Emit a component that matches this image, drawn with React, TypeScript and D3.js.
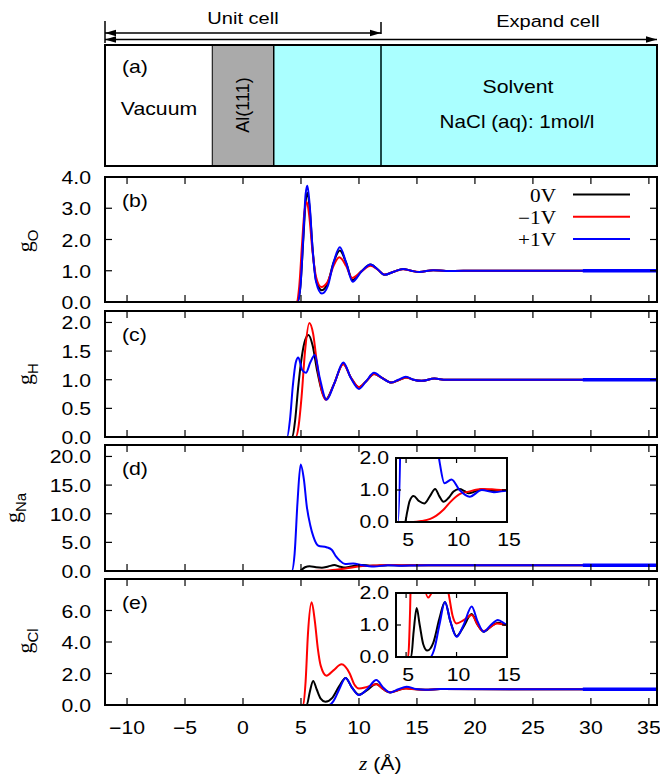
import React from "react";
import * as d3 from "d3";

type Pt = [number, number];

// ---------- axis / layout data ----------
const Z_MIN = -11.9;
const Z_MAX = 35.7;
const xTickValues = [-10, -5, 0, 5, 10, 15, 20, 25, 30, 35];
const insetXTicks = [5, 10, 15];
const insetYTicks = [0, 1, 2];
const insetXDomain: [number, number] = [4, 15];
const insetYDomain: [number, number] = [0, 2];
const seriesNames = ["0V", "\u22121V", "+1V"];
const seriesColors = ["#000000", "#ff0000", "#0000ff"];

// cell geometry (Å)
const slabZ: [number, number] = [-2.65, 2.65];
const unitCellEnd = 11.9;

// ---------- (b) g_O ----------
const gO_0V: Pt[] = [[1.9,0],[4.7,0],[4.95,0.5],[5.2,2.0],[5.4,3.2],[5.55,3.5],[5.75,3.0],[6.0,1.7],[6.3,0.7],[6.8,0.38],[7.3,0.6],[7.8,1.25],[8.35,1.65],[8.9,1.25],[9.45,0.7],[10.2,0.98],[11.0,1.2],[11.6,1.05],[12.2,0.87],[13.0,0.97],[13.8,1.06],[14.5,1.0],[15.2,0.96],[16.4,1.02],[17.5,0.99],[19,1.0],[29.3,1.0]];
const gO_m1V: Pt[] = [[1.9,0],[4.6,0],[4.85,0.5],[5.1,1.9],[5.3,2.9],[5.5,3.2],[5.7,2.8],[6.0,1.6],[6.3,0.8],[6.75,0.48],[7.3,0.65],[7.8,1.15],[8.3,1.43],[8.9,1.15],[9.4,0.77],[10.2,0.97],[11.0,1.16],[11.6,1.04],[12.2,0.88],[13.0,0.97],[13.8,1.05],[14.5,1.0],[15.2,0.96],[16.4,1.02],[17.5,0.99],[19,1.0],[29.3,1.0]];
const gO_p1V: Pt[] = [[-11.9,0],[4.7,0],[4.95,0.5],[5.2,2.1],[5.4,3.45],[5.55,3.72],[5.75,3.1],[6.0,1.7],[6.3,0.65],[6.8,0.27],[7.3,0.5],[7.8,1.25],[8.35,1.75],[8.9,1.25],[9.45,0.65],[10.2,0.97],[11.0,1.2],[11.6,1.05],[12.2,0.87],[13.0,0.97],[13.8,1.06],[14.5,1.0],[15.2,0.96],[16.4,1.02],[17.5,0.99],[19,1.0],[29.3,1.0],[35.7,1.0]];
const gO_ticks = [0, 1, 2, 3, 4];

// ---------- (c) g_H ----------
const gH_0V: Pt[] = [[1.9,0],[4.25,0],[4.5,0.3],[4.75,0.85],[5.0,1.3],[5.3,1.65],[5.65,1.78],[6.0,1.6],[6.4,1.15],[6.8,0.8],[7.15,0.66],[7.8,0.9],[8.65,1.28],[9.3,1.04],[10.0,0.87],[10.6,0.97],[11.3,1.1],[12.0,1.03],[12.8,0.95],[13.4,0.99],[14.05,1.04],[14.7,1.0],[15.4,0.98],[16.5,1.02],[17.5,1.0],[29.3,1.0]];
const gH_m1V: Pt[] = [[1.9,0],[4.55,0],[4.8,0.2],[5.05,0.7],[5.35,1.5],[5.72,1.99],[6.05,1.8],[6.4,1.25],[6.8,0.8],[7.15,0.65],[7.8,0.9],[8.65,1.27],[9.3,1.04],[10.0,0.87],[10.6,0.97],[11.3,1.1],[12.0,1.03],[12.8,0.95],[13.4,0.99],[14.05,1.04],[14.7,1.0],[15.4,0.98],[16.5,1.02],[17.5,1.0],[29.3,1.0]];
const gH_p1V: Pt[] = [[-11.9,0],[3.8,0],[4.05,0.3],[4.3,0.9],[4.55,1.3],[4.77,1.39],[5.1,1.17],[5.43,1.12],[5.8,1.3],[6.2,1.43],[6.6,1.05],[7.2,0.65],[7.9,0.95],[8.65,1.3],[9.3,1.03],[10.0,0.84],[10.6,0.97],[11.3,1.12],[12.0,1.03],[12.8,0.95],[13.4,1.0],[14.05,1.05],[14.7,1.0],[15.4,0.98],[16.5,1.02],[17.5,1.0],[29.3,1.0],[35.7,1.0]];
const gH_ticks = [0, 0.5, 1, 1.5, 2];

// ---------- (d) g_Na ----------
const gNa_0V: Pt[] = [[1.9,0],[4.9,0],[5.1,0.3],[5.35,0.65],[5.74,0.81],[6.3,0.65],[6.8,0.58],[7.35,0.8],[7.88,1.03],[8.3,0.8],[8.7,0.63],[9.2,0.75],[9.7,0.95],[10.3,1.03],[10.8,0.96],[11.2,0.9],[11.8,0.95],[12.5,1.02],[13.7,0.97],[15,1.0],[29.3,1.0]];
const gNa_m1V: Pt[] = [[1.9,0],[5.7,0],[6.5,0.03],[7.4,0.1],[8.0,0.2],[8.7,0.38],[9.4,0.63],[10.3,0.87],[11.2,0.95],[12.5,1.03],[13.5,1.02],[14.7,1.0],[29.3,1.0]];
const gNa_p1V: Pt[] = [[-11.9,0],[4.2,0],[4.45,3],[4.7,12],[4.97,18.6],[5.25,16],[5.5,11.3],[5.8,8],[6.07,6.0],[6.5,4.4],[7.2,4.15],[7.65,3.7],[8.0,2.6],[8.36,1.8],[8.8,1.21],[9.5,1.33],[10.3,1.0],[11.3,0.79],[12.5,1.0],[13.7,0.93],[14.9,0.98],[16,1.0],[29.3,1.0],[35.7,1.0]];
const gNa_ticks = [0, 5, 10, 15, 20];

// ---------- (e) g_Cl ----------
const gCl_0V: Pt[] = [[1.9,0],[5.5,0],[5.75,0.8],[6.05,1.53],[6.35,1.0],[6.7,0.4],[7.1,0.2],[7.7,0.45],[8.3,1.2],[8.85,1.72],[9.4,1.1],[10.0,0.65],[10.7,0.95],[11.5,1.34],[12.1,1.0],[12.7,0.79],[13.4,0.95],[14.1,1.07],[14.9,1.0],[15.7,0.97],[17,1.01],[29.3,1.0]];
const gCl_m1V: Pt[] = [[1.9,0],[5.2,0],[5.4,1.5],[5.6,4.5],[5.92,6.52],[6.2,5.3],[6.45,3.6],[6.7,2.5],[7.2,1.86],[7.8,2.2],[8.5,2.58],[9.2,2.0],[9.6,1.3],[10.0,1.05],[10.7,1.15],[11.5,1.31],[12.1,1.0],[12.65,0.81],[13.3,0.92],[14.0,1.05],[14.9,1.0],[15.7,0.97],[17,1.01],[29.3,1.0]];
const gCl_p1V: Pt[] = [[-11.9,0],[7.4,0],[7.8,0.25],[8.3,1.0],[8.85,1.72],[9.4,1.1],[10.0,0.63],[10.7,1.0],[11.5,1.58],[12.1,1.1],[12.7,0.79],[13.4,1.0],[14.1,1.16],[14.9,1.02],[15.7,0.97],[17,1.01],[29.3,1.0],[35.7,1.0]];
const gCl_ticks = [0, 2, 4, 6];

// ---------- styling ----------
const W = 660;
const H = 776;
const LEFT = 105;
const RIGHT = 657;
const SANS = "'Liberation Sans', Arial, Helvetica, sans-serif";
const SERIF = "'Liberation Serif', 'Times New Roman', serif";
const SX = 1.18;
const TICK = 7;
const fmt = d3.format(".1f");

const x = d3.scaleLinear().domain([Z_MIN, Z_MAX]).range([LEFT, RIGHT]);

type Panel = {
  id: string;
  top: number;
  bottom: number;
  yMax: number;
  ticks: number[];
  sub: string;
  labX: number;
  labY: number;
  series: Pt[][];
  legend?: boolean;
  inset?: { top: number; bottom: number; left: number; right: number };
};

const panels: Panel[] = [
  { id: "b", top: 177, bottom: 302, yMax: 4, ticks: gO_ticks, sub: "O", labX: 32, labY: 241, series: [gO_0V, gO_m1V, gO_p1V], legend: true },
  { id: "c", top: 311, bottom: 437, yMax: 2.2, ticks: gH_ticks, sub: "H", labX: 32, labY: 374, series: [gH_0V, gH_m1V, gH_p1V] },
  { id: "d", top: 445, bottom: 571, yMax: 22, ticks: gNa_ticks, sub: "Na", labX: 20, labY: 508, series: [gNa_0V, gNa_m1V, gNa_p1V], inset: { top: 458, bottom: 522, left: 396, right: 507 } },
  { id: "e", top: 579, bottom: 705, yMax: 8, ticks: gCl_ticks, sub: "Cl", labX: 32, labY: 641, series: [gCl_0V, gCl_m1V, gCl_p1V], inset: { top: 593, bottom: 657, left: 396, right: 507 } },
];

function T(props: { x: number; y: number; anchor?: string; size?: number; family?: string; children: React.ReactNode; style?: any }) {
  const { x: tx, y: ty, anchor = "start", size = 18, family = SANS, children } = props;
  return (
    <text transform={`translate(${tx},${ty}) scale(${SX},1)`} textAnchor={anchor} fontSize={size} fontFamily={family} fill="#000">
      {children}
    </text>
  );
}

function Curves({ series, xs, ys, clipId, width = 2 }: { series: Pt[][]; xs: any; ys: any; clipId: string; width?: number }) {
  const line = d3.line<Pt>().x((d) => xs(d[0])).y((d) => ys(d[1])).curve(d3.curveMonotoneX);
  const tailStart = series[0][series[0].length - 1][0];
  const blue = series[2];
  const tail = blue.filter((p) => p[0] >= tailStart);
  return (
    <g clipPath={`url(#${clipId})`}>
      {series.map((s, i) => (
        <path key={i} d={line(s) || ""} fill="none" stroke={seriesColors[i]} strokeWidth={width} strokeLinejoin="round" />
      ))}
      {tail.length > 1 && <path d={line(tail) || ""} fill="none" stroke={seriesColors[2]} strokeWidth={3.6} />}
    </g>
  );
}

function PanelView({ p }: { p: Panel }) {
  const y = d3.scaleLinear().domain([0, p.yMax]).range([p.bottom, p.top]);
  const clipId = `clip-${p.id}`;
  const ins = p.inset;
  let insetEl: React.ReactNode = null;
  if (ins) {
    const xi = d3.scaleLinear().domain(insetXDomain).range([ins.left, ins.right]);
    const yi = d3.scaleLinear().domain(insetYDomain).range([ins.bottom, ins.top]);
    const cid = `clip-in-${p.id}`;
    insetEl = (
      <g>
        <defs>
          <clipPath id={cid}>
            <rect x={ins.left} y={ins.top} width={ins.right - ins.left} height={ins.bottom - ins.top} />
          </clipPath>
        </defs>
        <rect x={ins.left} y={ins.top} width={ins.right - ins.left} height={ins.bottom - ins.top} fill="#fff" />
        <Curves series={p.series} xs={xi} ys={yi} clipId={cid} />
        {insetXTicks.map((t) => (
          <g key={"ix" + t}>
            <line x1={xi(t)} x2={xi(t)} y1={ins.bottom} y2={ins.bottom - 5} stroke="#000" strokeWidth={1.2} />
            <line x1={xi(t)} x2={xi(t)} y1={ins.top} y2={ins.top + 5} stroke="#000" strokeWidth={1.2} />
            <T x={xi(t) + 2} y={ins.bottom + 24} anchor="middle">{String(t)}</T>
          </g>
        ))}
        {insetYTicks.map((t) => (
          <g key={"iy" + t}>
            <line x1={ins.left} x2={ins.left + 5} y1={yi(t)} y2={yi(t)} stroke="#000" strokeWidth={1.2} />
            <line x1={ins.right} x2={ins.right - 5} y1={yi(t)} y2={yi(t)} stroke="#000" strokeWidth={1.2} />
            <T x={ins.left - 7} y={yi(t) + 6} anchor="end">{fmt(t)}</T>
          </g>
        ))}
        <rect x={ins.left} y={ins.top} width={ins.right - ins.left} height={ins.bottom - ins.top} fill="none" stroke="#000" strokeWidth={2} />
      </g>
    );
  }
  return (
    <g>
      <defs>
        <clipPath id={clipId}>
          <rect x={LEFT} y={p.top - 1} width={RIGHT - LEFT} height={p.bottom - p.top + 1} />
        </clipPath>
      </defs>
      <Curves series={p.series} xs={x} ys={y} clipId={clipId} />
      {xTickValues.map((t) => (
        <g key={"xt" + t}>
          <line x1={x(t)} x2={x(t)} y1={p.top} y2={p.top + TICK} stroke="#000" strokeWidth={1.2} />
          <line x1={x(t)} x2={x(t)} y1={p.bottom} y2={p.bottom - TICK} stroke="#000" strokeWidth={1.2} />
        </g>
      ))}
      {p.ticks.map((t) => (
        <g key={"yt" + t}>
          <line x1={LEFT} x2={LEFT + TICK} y1={y(t)} y2={y(t)} stroke="#000" strokeWidth={1.2} />
          <line x1={RIGHT} x2={RIGHT - TICK} y1={y(t)} y2={y(t)} stroke="#000" strokeWidth={1.2} />
          <T x={91} y={y(t) + 7} anchor="end">{fmt(t)}</T>
        </g>
      ))}
      <rect x={LEFT} y={p.top} width={RIGHT - LEFT} height={p.bottom - p.top} fill="none" stroke="#000" strokeWidth={2} />
      <T x={122} y={p.top + 30}>{`(${p.id})`}</T>
      <text transform={`translate(${p.labX},${p.labY}) rotate(-90)`} textAnchor="middle">
        <tspan fontFamily={SERIF} fontSize={22}>g</tspan>
        <tspan fontFamily={SANS} fontSize={15} dy={6}>{p.sub}</tspan>
      </text>
      {p.legend &&
        seriesNames.map((n, i) => {
          const ly = p.top + 17.5 + i * 22.3;
          return (
            <g key={n}>
              <T x={556} y={ly + 7} anchor="end" family={SERIF} size={18}>{n}</T>
              <line x1={573} x2={630} y1={ly} y2={ly} stroke={seriesColors[i]} strokeWidth={2} />
            </g>
          );
        })}
      {insetEl}
    </g>
  );
}

function arrowHead(xe: number, yy: number, dir: number) {
  const L = 11;
  const hw = 3.2;
  return `M${xe},${yy} L${xe - dir * L},${yy - hw} L${xe - dir * L},${yy + hw} Z`;
}

function TopPanel() {
  const top = 45;
  const bottom = 166;
  const xu = x(unitCellEnd);
  const yU = 33;
  const yE = 39.5;
  return (
    <g>
      <rect x={x(Z_MIN)} y={top} width={x(slabZ[0]) - x(Z_MIN)} height={bottom - top} fill="#fff" />
      <rect x={x(slabZ[0])} y={top} width={x(slabZ[1]) - x(slabZ[0])} height={bottom - top} fill="#aaaaaa" stroke="#000" strokeWidth={1} />
      <rect x={x(slabZ[1])} y={top} width={x(Z_MAX) - x(slabZ[1])} height={bottom - top} fill="#aaffff" />
      <line x1={x(slabZ[1])} x2={x(slabZ[1])} y1={top} y2={bottom} stroke="#000" strokeWidth={1.5} />
      <line x1={xu} x2={xu} y1={top} y2={bottom} stroke="#1e4a4a" strokeWidth={2} />
      <rect x={LEFT} y={top} width={RIGHT - LEFT} height={bottom - top} fill="none" stroke="#000" strokeWidth={2} />
      {/* arrows */}
      <line x1={LEFT} x2={LEFT} y1={21} y2={43} stroke="#000" strokeWidth={1.5} />
      <line x1={xu} x2={xu} y1={22} y2={34} stroke="#000" strokeWidth={1.5} />
      <line x1={LEFT} x2={xu} y1={yU} y2={yU} stroke="#000" strokeWidth={1.5} />
      <path d={arrowHead(LEFT, yU, -1)} fill="#000" />
      <path d={arrowHead(xu, yU, 1)} fill="#000" />
      <line x1={LEFT} x2={RIGHT} y1={yE} y2={yE} stroke="#000" strokeWidth={1.5} />
      <path d={arrowHead(LEFT, yE, -1)} fill="#000" />
      <path d={arrowHead(RIGHT, yE, 1)} fill="#000" />
      <T x={243} y={23.5} anchor="middle" size={17}>Unit cell</T>
      <T x={548} y={27} anchor="middle" size={17}>Expand cell</T>
      <T x={122} y={73}>(a)</T>
      <T x={159} y={115} anchor="middle">Vacuum</T>
      <text transform={`translate(${(x(slabZ[0]) + x(slabZ[1])) / 2 + 6},${105}) rotate(-90)`} textAnchor="middle" fontSize={18} fontFamily={SANS}>
        Al(111)
      </text>
      <T x={518} y={93} anchor="middle">Solvent</T>
      <T x={517} y={128} anchor="middle" size={17.5}>NaCl (aq): 1mol/l</T>
    </g>
  );
}

export default function App() {
  return (
    <svg width={W} height={H} viewBox={`0 0 ${W} ${H}`} style={{ position: "absolute", left: 0, top: 0, background: "#fff" }}>
      <rect x={0} y={0} width={W} height={H} fill="#fff" />
      <TopPanel />
      {panels.map((p) => (
        <PanelView key={p.id} p={p} />
      ))}
      {xTickValues.map((t) => (
        <T key={"xl" + t} x={x(t)} y={734} anchor="middle">
          {t < 0 ? `\u2212${Math.abs(t)}` : String(t)}
        </T>
      ))}
      <text transform="translate(359,770) scale(1.18,1)" fontSize={18} fill="#000">
        <tspan fontFamily={SERIF} fontStyle="italic">z</tspan>
        <tspan fontFamily={SANS}> (Å)</tspan>
      </text>
    </svg>
  );
}
